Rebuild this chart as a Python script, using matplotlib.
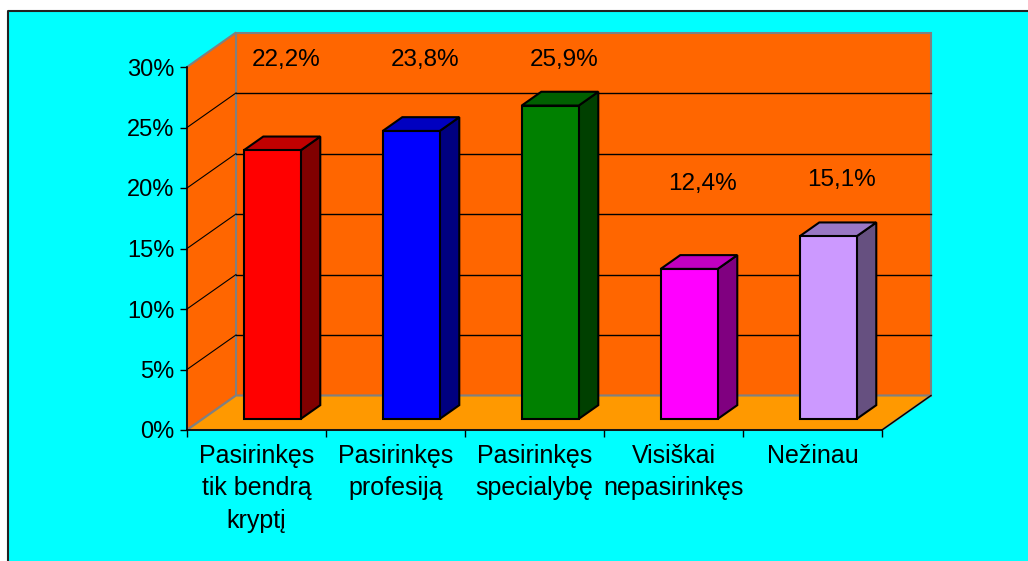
import matplotlib
matplotlib.use("Agg")
import matplotlib.pyplot as plt
from matplotlib.patches import Polygon, Rectangle
from matplotlib.lines import Line2D

plt.rcParams["font.family"] = ["Liberation Sans", "DejaVu Sans"]

categories = ["Pasirinkęs\ntik bendrą\nkryptį", "Pasirinkęs\nprofesiją",
              "Pasirinkęs\nspecialybę", "Visiškai\nnepasirinkęs", "Nežinau"]
values = [22.2, 23.8, 25.9, 12.4, 15.1]
yticks = [0, 5, 10, 15, 20, 25, 30]

front_colors = ["#FF0000", "#0000FF", "#008000", "#FF00FF", "#CC99FF"]
top_colors = ["#C00000", "#0000C0", "#006000", "#C000C0", "#9977C4"]
side_colors = ["#800000", "#000080", "#004000", "#800080", "#665080"]

# label heights (front-scale units) as placed in the original
label_y = [30.6, 30.6, 30.6, 20.3, 20.7]

W, H = 1028, 561
fig = plt.figure(figsize=(W / 100, H / 100), dpi=100)
fig.patch.set_facecolor("white")

# cyan chart area with left/top border
fig.patches.append(Rectangle((8 / W, 0), 1 - 8 / W, (H - 11) / H,
                             transform=fig.transFigure, facecolor="#00FFFF",
                             edgecolor="none", zorder=-2))
fig.lines.append(Line2D([8 / W, 8 / W, 1], [0, (H - 11) / H, (H - 11) / H],
                        transform=fig.transFigure, color="#222222", lw=1.5,
                        zorder=-1))

ax = fig.add_axes([187 / W, (H - 430) / H, (882 - 187) / W, (430 - 67) / H])
ax.set_facecolor("none")
n = len(values)
ymax = yticks[-1]
ax.set_xlim(0, n)
ax.set_ylim(0, ymax)

# depth offsets in data units
DX = 49 / 139
DY = 34.5 / 12.1


def P(x, y, d):
    return (x + d * DX, y + d * DY)


wall = "#FF6600"
floor = "#FF9900"
edge = "#808080"

# back wall
ax.add_patch(Polygon([P(0, 0, 1), P(n, 0, 1), P(n, ymax, 1), P(0, ymax, 1)],
                     closed=True, facecolor=wall, edgecolor=edge, lw=1.5,
                     clip_on=False, zorder=1))
# side wall
ax.add_patch(Polygon([P(0, 0, 0), P(0, 0, 1), P(0, ymax, 1), P(0, ymax, 0)],
                     closed=True, facecolor=wall, edgecolor=edge, lw=1.5,
                     clip_on=False, zorder=1))
# floor
ax.add_patch(Polygon([P(0, 0, 0), P(n, 0, 0), P(n, 0, 1), P(0, 0, 1)],
                     closed=True, facecolor=floor, edgecolor=edge, lw=1.5,
                     clip_on=False, zorder=1))
ax.plot(*zip(P(n, 0, 0), P(n, 0, 1)), color="black", lw=1, clip_on=False, zorder=2)

# gridlines
for v in yticks[1:-1]:
    ax.plot(*zip(P(0, v, 1), P(n, v, 1)), color="black", lw=1, clip_on=False, zorder=2)
    ax.plot(*zip(P(0, v, 0), P(0, v, 1)), color="black", lw=0.8, clip_on=False, zorder=2)

# bars
bw = 57 / 139
f0, f1 = 0.32, 0.72
for i, v in enumerate(values):
    c = i + 0.5
    l, r = c - bw / 2, c + bw / 2
    kw = dict(closed=True, edgecolor="black", lw=1.5, clip_on=False,
              joinstyle="miter")
    ax.add_patch(Polygon([P(r, 0, f0), P(r, 0, f1), P(r, v, f1), P(r, v, f0)],
                         facecolor=side_colors[i], zorder=3, **kw))
    ax.add_patch(Polygon([P(l, v, f0), P(r, v, f0), P(r, v, f1), P(l, v, f1)],
                         facecolor=top_colors[i], zorder=3, **kw))
    ax.add_patch(Polygon([P(l, 0, f0), P(r, 0, f0), P(r, v, f0), P(l, v, f0)],
                         facecolor=front_colors[i], zorder=4, **kw))
    ax.text(c + 0.6 * DX, label_y[i], f"{v:.1f}%".replace(".", ","),
            ha="center", va="center", fontsize=17.5, zorder=5)

# axes
for s in ("top", "right"):
    ax.spines[s].set_visible(False)
ax.spines["left"].set_linewidth(1.2)
ax.spines["bottom"].set_linewidth(1.2)
ax.spines["left"].set_zorder(6)
ax.spines["bottom"].set_zorder(6)
ax.set_yticks(yticks)
ax.set_yticklabels([f"{t}%" for t in yticks])
ax.set_xticks(range(n + 1))
ax.set_xticklabels([])
ax.set_xticks([i + 0.5 for i in range(n)], minor=True)
ax.set_xticklabels(categories, minor=True, linespacing=1.45)
ax.tick_params(axis="y", direction="out", length=5, width=1, pad=4, labelsize=17)
ax.tick_params(axis="x", which="major", direction="out", length=5, width=1)
ax.tick_params(axis="x", which="minor", length=0, pad=10, labelsize=18)

fig.savefig("out.png", dpi=100)
